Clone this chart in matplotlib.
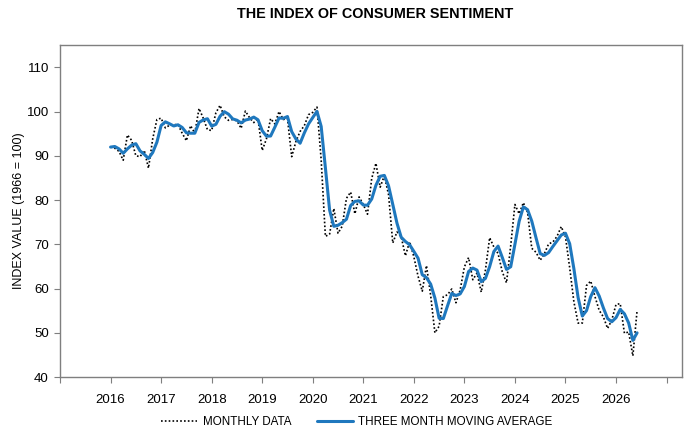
import numpy as np
import pandas as pd
import matplotlib
matplotlib.use("Agg")
import matplotlib.pyplot as plt

plt.rcParams['font.family'] = ['Liberation Sans', 'DejaVu Sans']

#monthly index values, Nov 2015 - Jun 2026 (first two only feed the moving average)
prior_months = [91.3, 92.6]
y2016 = [92.0, 91.7, 91.0, 89.0, 94.7, 93.5, 90.0, 89.8, 91.2, 87.2, 93.8, 98.2]
y2017 = [98.5, 96.3, 96.9, 97.0, 97.1, 95.1, 93.4, 96.8, 95.1, 100.7, 98.5, 95.9]
y2018 = [95.7, 99.7, 101.4, 98.8, 98.0, 98.2, 97.9, 96.2, 100.1, 98.6, 97.5, 98.3]
y2019 = [91.2, 93.8, 98.4, 97.2, 100.0, 98.2, 98.4, 89.8, 93.2, 95.5, 96.8, 99.3]
y2020 = [99.8, 101.0, 89.1, 71.8, 72.3, 78.1, 72.5, 74.1, 80.4, 81.8, 76.9, 80.7]
y2021 = [79.0, 76.8, 84.9, 88.3, 82.9, 85.5, 81.2, 70.3, 72.8, 71.7, 67.4, 70.6]
y2022 = [67.2, 62.8, 59.4, 65.2, 58.4, 50.0, 51.5, 58.2, 58.6, 59.9, 56.8, 59.7]
y2023 = [64.9, 67.0, 62.0, 63.5, 59.2, 64.2, 71.5, 69.4, 67.9, 63.8, 61.3, 69.7]
y2024 = [79.0, 76.9, 79.4, 77.2, 69.1, 68.2, 66.4, 67.9, 70.1, 70.5, 71.8, 74.0]
y2025 = [71.7, 64.7, 57.0, 52.2, 52.2, 60.7, 61.7, 58.2, 55.1, 53.6, 51.0, 52.9]
y2026 = [56.4, 56.6, 49.9, 50.2, 44.8, 55.0]

year_labels = [str(y) for y in range(2016, 2027)]

values = (prior_months + y2016 + y2017 + y2018 + y2019 + y2020 + y2021
          + y2022 + y2023 + y2024 + y2025 + y2026)
s = pd.Series(values)
ma = s.rolling(3).mean()

#drop the 2015 months, plot from Jan 2016
monthly = s.iloc[2:].to_numpy()
moving = ma.iloc[2:].to_numpy()
x = 2016 + np.arange(len(monthly)) / 12.0

fig = plt.figure(figsize=(6.9, 4.38), dpi=100)
ax = fig.add_axes([0.087, 0.139, 0.901, 0.758])

ax.plot(x, monthly, color="black", linestyle=(0, (1, 1.3)), linewidth=1.2,
        label="MONTHLY DATA")
ax.plot(x, moving, color="#1f78be", linewidth=2.2, solid_joinstyle="round",
        solid_capstyle="round", label="THREE MONTH MOVING AVERAGE")

ax.set_xlim(2015, 2027.3)
ax.set_ylim(40, 115)

ax.set_xticks(range(2015, 2028))
ax.set_xticklabels([""] + year_labels + [""])
ax.set_yticks(range(40, 111, 10))

for sp in ax.spines.values():
    sp.set_color("#7f7f7f")
    sp.set_linewidth(1.0)

ax.tick_params(axis="both", direction="out", length=4, color="#7f7f7f",
               labelsize=9.5, labelcolor="black")
ax.tick_params(axis="x", pad=8)
ax.tick_params(axis="y", pad=4)

ax.set_ylabel("INDEX VALUE (1966 = 100)", fontsize=9, labelpad=1.5)

fig.text(0.543, 0.967, "THE INDEX OF CONSUMER SENTIMENT", ha="center",
         va="center", fontsize=10.4, fontweight="bold")

fig.legend(loc="center", bbox_to_anchor=(0.517, 0.037), ncol=2,
           frameon=False, fontsize=8.4, handlelength=3.1,
           columnspacing=2.2, handletextpad=0.45)

fig.savefig("out.png", dpi=100)
